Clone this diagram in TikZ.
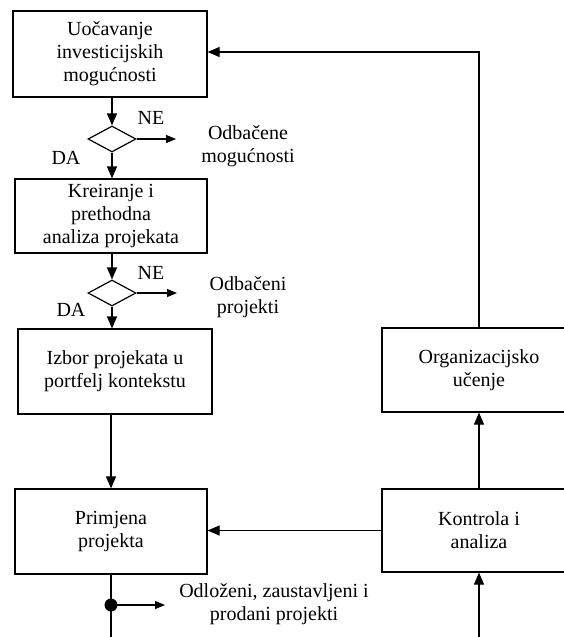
\documentclass[tikz,border=0pt]{standalone}
\usepackage{fontspec}
\setmainfont{Liberation Serif}
\usetikzlibrary{arrows.meta,shapes.geometric,calc}
\begin{document}
\begin{tikzpicture}[x=1pt,y=-1pt,
  every node/.style={font=\fontsize{20}{23}\selectfont},
  box/.style={draw,line width=1.2pt,rectangle,inner sep=0pt,align=center},
  dec/.style={draw,line width=1.2pt,diamond,inner sep=0pt,minimum width=48pt,minimum height=26pt},
  arr/.style={line width=1.2pt,-{Triangle[length=12pt,width=10pt]}},
  sarr/.style={line width=1.2pt,-{Triangle[length=10pt,width=8pt]}},
  ln/.style={line width=1.2pt},
  lbl/.style={inner sep=0pt,align=center}]
\useasboundingbox[fill=white] (0,0) rectangle (563,637);
% boxes
\node[box,minimum width=194pt,minimum height=86pt] (b1) at (110,54) {Uočavanje\\investicijskih\\mogućnosti};
\node[box,minimum width=192pt,minimum height=74pt] (b2) at (111,216) {Kreiranje i\\prethodna\\analiza projekata};
\node[box,minimum width=194pt,minimum height=85pt] (b3) at (115,371.5) {Izbor projekata u\\portfelj kontekstu};
\node[box,minimum width=192pt,minimum height=85pt] (b4) at (111,531.5) {Primjena\\projekta};
\node[box,minimum width=194pt,minimum height=84pt] (org) at (479,370) {Organizacijsko\\učenje};
\node[box,minimum width=194pt,minimum height=83pt] (kon) at (479,530.5) {Kontrola i\\analiza};
% decisions
\node[dec] (d1) at (112,139) {};
\node[dec] (d2) at (112,293) {};
% labels
\node[lbl] (ne1) at (151,118) {NE};
\node[lbl] (da1) at (66,158) {DA};
\node[lbl] (ne2) at (151,273) {NE};
\node[lbl] (da2) at (71,310) {DA};
\node[lbl] (odm) at (248,146) {Odbačene\\mogućnosti};
\node[lbl] (odp) at (248,297) {Odbačeni\\projekti};
\node[lbl] (odl) at (274,604) {Odloženi, zaustavljeni i\\prodani projekti};
% coordinates
\coordinate (r1) at (176,139);
\coordinate (r2) at (177,293);
\coordinate (bl) at (111,637);
\coordinate (br) at (479,637);
\coordinate (r3) at (165,605);
% connectors
\draw[arr] (b1.south -| d1.north) -- (d1.north);
\draw[arr] (d1.south) -- (d1.south |- b2.north);
\draw[arr] (b2.south -| d2.north) -- (d2.north);
\draw[arr] (d2.south) -- (d2.south |- b3.north);
\draw[sarr] (d1.east) -- (r1);
\draw[sarr] (d2.east) -- (r2);
\draw[arr] (b3.south -| 111,0) -- (b4.north);
\draw[ln] (b4.south) -- (bl);
\node[circle,fill,inner sep=0pt,minimum size=13pt] (dot) at (111,605) {};
\draw[sarr] (dot.center) -- (r3);
\draw[arr] (br) -- (kon.south);
\draw[arr] (kon.north) -- (org.south);
\draw[arr] (org.north) -- (479,52) -- (b1.east |- 0,52);
\draw[arr] (kon.west) -- (kon.west -| b4.east);
\end{tikzpicture}
\end{document}
